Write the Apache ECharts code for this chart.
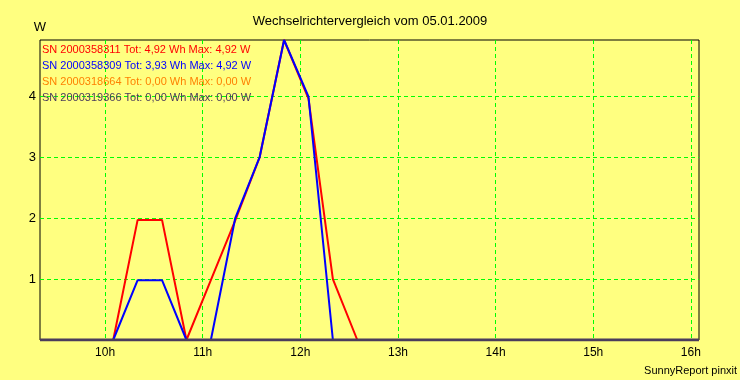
<!DOCTYPE html>
<html>
<head>
<meta charset="utf-8">
<script src="https://cdn.jsdelivr.net/npm/echarts@6/dist/echarts.min.js"></script>
<style>
html,body{margin:0;padding:0;background:#ffff80;}
#c{width:740px;height:380px;}
</style>
</head>
<body>
<div id="c"></div>
<script>
// Data
const times = ["9:20","9:35","9:50","10:05","10:20","10:35","10:50","11:05","11:20","11:35","11:50","12:05","12:20","12:35",
  "12:50","13:05","13:20","13:35","13:50","14:05","14:20","14:35","14:50","15:05","15:20","15:35","15:50","16:05"];
const seriesNames = [
  "SN 2000358311 Tot: 4,92 Wh Max: 4,92 W",
  "SN 2000358309 Tot: 3,93 Wh Max: 4,92 W",
  "SN 2000318664 Tot: 0,00 Wh Max: 0,00 W",
  "SN 2000319366 Tot: 0,00 Wh Max: 0,00 W"
];
const red    = [0,0,0,0,1.97,1.97,0,0.98,1.96,3.0,4.92,3.96,1.0,0,0,0,0,0,0,0,0,0,0,0,0,0,0,0];
const blue   = [0,0,0,0,0.98,0.98,0,0,2.0,3.0,4.92,3.99,0,0,0,0,0,0,0,0,0,0,0,0,0,0,0,0];
const orange = [0,0,0,0,0,0,0,0,0,0,0,0,0,0,0,0,0,0,0,0,0,0,0,0,0,0,0,0];
const dark   = [0,0,0,0,0,0,0,0,0,0,0,0,0,0,0,0,0,0,0,0,0,0,0,0,0,0,0,0];
const xTickValues = [10,11,12,13,14,15,16];
const xTickLabels = ["10h","11h","12h","13h","14h","15h","16h"];
const yTickValues = [1,2,3,4];
const yTickLabels = ["1","2","3","4"];
const yMax = 4.92;
const titleText = "Wechselrichtervergleich vom 05.01.2009";
const yName = "W";
const footer = "SunnyReport pinxit";

const colors = ["#ff0000","#0000ff","#ff8000","#4a3c5c"];
const toH = t => { const [h,m] = t.split(":").map(Number); return h + m/60; };
const xs = times.map(toH);
const pairs = arr => arr.map((v,i) => [xs[i], v]);
const FONT = "'Liberation Sans', Arial, sans-serif";

const chart = echarts.init(document.getElementById('c'), null, {renderer:'canvas'});
const dataSets = [red, blue, orange, dark];
const order = [2, 0, 1, 3]; // draw order
chart.setOption({
  animation:false,
  backgroundColor:'#ffff80',
  title:{text:titleText,left:'center',top:10,textStyle:{fontFamily:FONT,fontSize:13,fontWeight:'normal',color:'#000'}},
  graphic:[{type:'text',right:3,top:365,style:{text:footer,font:"11px "+FONT,fill:'#000'}}],
  legend:{
    orient:'vertical',left:42,top:43,itemWidth:0,itemHeight:0,itemGap:3,padding:0,
    selectedMode:false,
    textStyle:{fontFamily:FONT,fontSize:11,padding:[0,0,0,-5],lineHeight:13},
    data:seriesNames.map((n,i)=>({name:n,icon:'rect',textStyle:{color:colors[i]}}))
  },
  grid:{left:40,top:40,right:41,bottom:40,show:true,borderColor:'#000',borderWidth:1,backgroundColor:'transparent'},
  xAxis:{
    type:'value',min:xs[0],max:xs[xs.length-1],
    axisLine:{show:false},
    axisTick:{show:false,customValues:xTickValues},
    splitLine:{show:true,lineStyle:{color:'#00ff00',type:[4,3],width:1}},
    axisLabel:{fontFamily:FONT,fontSize:12,color:'#000',margin:7,customValues:xTickValues,
      formatter:v=>{const idx=xTickValues.indexOf(Math.round(v)); return idx>=0?xTickLabels[idx]:'';}}
  },
  yAxis:{
    type:'value',min:0,max:yMax,name:yName,nameGap:6,
    nameTextStyle:{fontFamily:FONT,fontSize:13,color:'#000',align:'center'},
    axisLine:{show:false},
    axisTick:{show:false,customValues:yTickValues},
    splitLine:{show:true,lineStyle:{color:'#00ff00',type:[4,3],width:1}},
    axisLabel:{fontFamily:FONT,fontSize:13,color:'#000',margin:4,customValues:yTickValues,
      formatter:v=>{const idx=yTickValues.indexOf(Math.round(v)); return idx>=0?yTickLabels[idx]:'';}}
  },
  series:order.map(i=>({
    name:seriesNames[i],type:'line',data:pairs(dataSets[i]),showSymbol:false,symbol:'none',
    color:colors[i],lineStyle:{color:colors[i],width:i===3?3:2},z:3
  }))
});
</script>
</body>
</html>
